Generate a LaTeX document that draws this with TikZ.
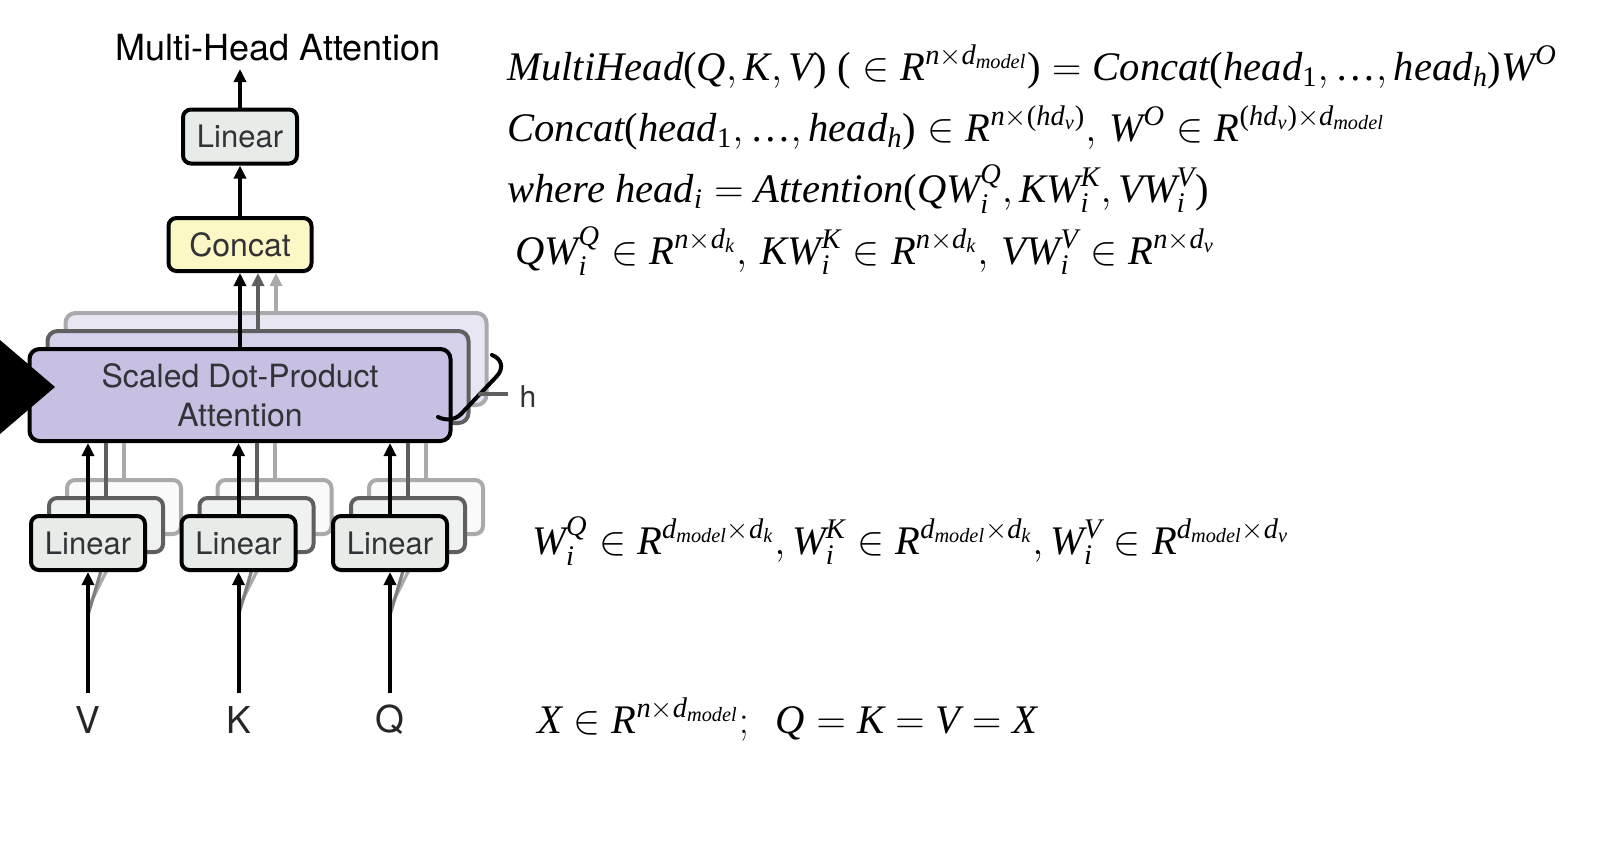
\RequirePackage{fix-cm}
\documentclass[tikz,border=0pt]{standalone}
\usepackage{amsmath}
\usepackage{fontspec}
\newfontfamily\hel{TeX Gyre Heros}
\newfontfamily\tms{Liberation Serif}
\usetikzlibrary{arrows.meta,calc}
\newcommand{\mi}[1]{\text{\tms\itshape #1}}
\newcommand{\mn}[1]{\text{\tms #1}}
\newcommand{\lp}{\mn{(}}
\newcommand{\rp}{\mn{)}}
\newcommand{\dts}{\mn{…}}
\definecolor{linfill}{RGB}{231,236,233}
\definecolor{catfill}{RGB}{252,248,197}
\definecolor{sdpfill}{RGB}{199,192,226}
\definecolor{sdpmid}{RGB}{214,209,234}
\definecolor{sdpback}{RGB}{233,230,244}
\definecolor{midgray}{RGB}{95,95,95}
\definecolor{backgray}{RGB}{170,170,172}
\definecolor{midfill}{RGB}{240,242,241}
\definecolor{backfill}{RGB}{249,250,249}
\definecolor{txtgray}{RGB}{50,50,55}
\begin{document}
\begin{tikzpicture}[x=0.5pt,y=-0.5pt,
  bx/.style={draw=black, line width=2pt, rounded corners=4pt, inner sep=0pt, text=txtgray},
  lbox/.style={bx, minimum width=57pt, minimum height=27pt, font=\hel\fontsize{15.5}{18}\selectfont},
  sbox/.style={bx, rounded corners=5pt, minimum width=210.5pt, minimum height=46pt, align=center, font=\hel\fontsize{16}{19.5}\selectfont},
  arr/.style={line width=2pt, -{Triangle[length=6.5pt,width=6pt]}},
  mtxt/.style={anchor=base west, inner sep=0pt, font=\tms\fontsize{20.3}{24}\selectfont},
  lab/.style={font=\hel\fontsize{18.5}{20}\selectfont, text=black!85, inner sep=0pt}]
\fill[white] (0,0) rectangle (1599,852);
\useasboundingbox (0,0) rectangle (1599,852);

% title and top column
\node[font=\hel\fontsize{18}{20}\selectfont, inner sep=0pt] (title) at (278,48) {Multi-Head Attention};
\node[lbox, fill=linfill] (lintop) at (240,136.5) {Linear};
\node[bx, fill=catfill, minimum width=71.5pt, minimum height=26.5pt, font=\hel\fontsize{16}{18}\selectfont] (concat) at (240,244.5) {Concat};
\coordinate (outtip) at (240,69);
\draw[arr] (lintop.north) -- (outtip);
\draw[arr] (concat.north) -- (lintop.south);

% scaled dot-product attention stack
\node[sbox, draw=backgray, fill=sdpback] (sdpb) at (276,359) {};
\draw[arr, backgray] (sdpb.north) -- (sdpb.north |- concat.south);
\node[sbox, draw=midgray, fill=sdpmid] (sdpm) at (258,377) {};
\draw[arr, midgray] (sdpm.north) -- (sdpm.north |- concat.south);
\node[sbox, fill=sdpfill] (sdpa) at (240,395) {Scaled Dot-Product\\Attention};
\draw[arr] (sdpa.north) -- (concat.south);

% left black pointer
\fill[black] (0,340) -- (55,387) -- (0,434) -- cycle;

% h bracket
\draw[line width=2pt, line cap=round] (492,355) .. controls (502,359) and (504,368) .. (497,376) -- (461,414) .. controls (455,420) and (446,421) .. (438,417);
\node[font=\hel\fontsize{15}{17}\selectfont, text=txtgray, inner sep=0pt] (hlab) at (528,397) {h};
\coordinate (hb) at (478,394);
\draw[line width=1.6pt, midgray] (hb) -- ($(hlab.west)+(-11,-3)$);

% bottom linear stacks
\foreach \n/\cx in {v/88,k/238.5,q/390}{
  \coordinate (tail\n) at (\cx,693);
  \draw[line width=1.6pt, backgray] ($(tail\n)+(0,-85)$) -- ({\cx+36},536);
  \draw[line width=1.6pt, midgray!80] ($(tail\n)+(0,-78)$) -- ({\cx+18},554);
  \node[lbox, draw=backgray, fill=backfill] (lin\n-b) at ({\cx+36},507) {};
  \draw[line width=2pt, backgray] (lin\n-b.north) -- (lin\n-b.north |- sdpa.south);
  \node[lbox, draw=midgray, fill=midfill] (lin\n-m) at ({\cx+18},525) {};
  \draw[line width=2pt, midgray] (lin\n-m.north) -- (lin\n-m.north |- sdpa.south);
  \node[lbox, fill=linfill] (lin\n) at (\cx,543) {Linear};
  \draw[arr] (tail\n) -- (lin\n.south);
  \draw[arr] (lin\n.north) -- (lin\n.north |- sdpa.south);
}
\node[lab] (labv) at (88,720) {V};
\node[lab] (labk) at (238.5,720) {K};
\node[lab] (labq) at (390,720) {Q};

% formulas
\node[mtxt] (m1) at (507,80) {$\mi{MultiHead}\lp\mi{Q}, \mi{K}, \mi{V}\rp\ \lp \in \mi{R}^{\mi{n}\times \mi{d}_{\mi{model}}}\rp = \mi{Concat}\lp\mi{head}_{\mn{1}}, \dts, \mi{head}_{\mi{h}}\rp\mi{W}^{\mi{O}}$};
\node[mtxt] (m2) at (507,141) {$\mi{Concat}\lp\mi{head}_{\mn{1}}, \dts, \mi{head}_{\mi{h}}\rp \in \mi{R}^{\mi{n}\times\lp\mi{hd}_{\mi{v}}\rp},\, \mi{W}^{\mi{O}} \in \mi{R}^{\lp\mi{hd}_{\mi{v}}\rp\times \mi{d}_{\mi{model}}}$};
\node[mtxt] (m3) at (507,202) {$\mi{where head}_{\mi{i}} = \mi{Attention}\lp\mi{QW}^{\mi{Q}}_{\mi{i}}, \mi{KW}^{\mi{K}}_{\mi{i}}, \mi{VW}^{\mi{V}}_{\mi{i}}\rp$};
\node[mtxt] (m4) at (515,264) {$\mi{QW}^{\mi{Q}}_{\mi{i}} \in \mi{R}^{\mi{n}\times \mi{d}_{\mi{k}}},\, \mi{KW}^{\mi{K}}_{\mi{i}} \in \mi{R}^{\mi{n}\times \mi{d}_{\mi{k}}},\, \mi{VW}^{\mi{V}}_{\mi{i}} \in \mi{R}^{\mi{n}\times \mi{d}_{\mi{v}}}$};
\node[mtxt] (m5) at (532,554) {$\mi{W}^{\mi{Q}}_{\mi{i}} \in \mi{R}^{\mi{d}_{\mi{model}}\times \mi{d}_{\mi{k}}}, \mi{W}^{\mi{K}}_{\mi{i}} \in \mi{R}^{\mi{d}_{\mi{model}}\times \mi{d}_{\mi{k}}}, \mi{W}^{\mi{V}}_{\mi{i}} \in \mi{R}^{\mi{d}_{\mi{model}}\times \mi{d}_{\mi{v}}}$};
\node[mtxt] (m6) at (537,733) {$\mi{X} \in \mi{R}^{\mi{n}\times \mi{d}_{\mi{model}}};\ \ \mi{Q} = \mi{K} = \mi{V} = \mi{X}$};
\end{tikzpicture}
\end{document}
